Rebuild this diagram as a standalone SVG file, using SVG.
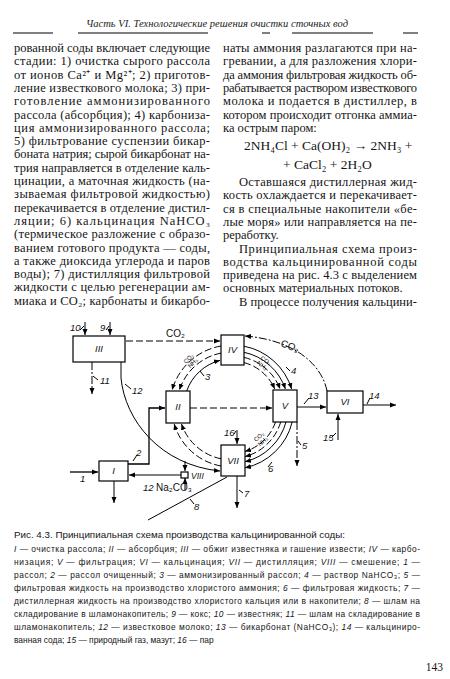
<svg xmlns="http://www.w3.org/2000/svg" width="450" height="679" viewBox="0 0 450 679">
<style>
.t{font-family:"Liberation Serif","Times New Roman",serif;font-size:12.5px;fill:#151515}
.f{font-family:"Liberation Serif","Times New Roman",serif;font-size:13.5px;fill:#151515}
.h{font-family:"Liberation Serif","Times New Roman",serif;font-style:italic;font-size:11px;fill:#222}
.c{font-family:"Liberation Sans",Arial,sans-serif;font-size:9.8px;fill:#151515}
.l{font-family:"Liberation Sans",Arial,sans-serif;font-size:8.4px;fill:#151515}
.i{font-style:italic}
.n{font-family:"Liberation Sans",Arial,sans-serif;font-style:italic;font-size:9.5px;fill:#111}
.s{font-family:"Liberation Sans",Arial,sans-serif;font-size:10px;fill:#111}
.g{font-family:"Liberation Sans",Arial,sans-serif;font-size:6px;fill:#111}
.box{fill:#fff;stroke:#000;stroke-width:1.2}
.ln{fill:none;stroke:#000;stroke-width:1}
.dash{stroke-dasharray:7 3}
.dd{stroke-dasharray:8 2 2 2}
</style>
<defs>
<marker id="a" markerWidth="7" markerHeight="6" refX="6" refY="3" orient="auto" markerUnits="userSpaceOnUse"><path d="M0,0.5 L6,3 L0,5.5 z" fill="#000"/></marker>
</defs>
<rect width="450" height="679" fill="#fff"/>

<g id="header">
<text class="h" x="86" y="27" textLength="262" lengthAdjust="spacingAndGlyphs">Часть VI. Технологические решения очистки сточных вод</text>
<path class="ln" d="M13 33H53M78 33H208M262 33H270M292 33H373M403 33H418"/>
</g>

<g id="left-column">
<text class="t" x="14" y="52" textLength="196">рованной соды включает следующие</text>
<text class="t" x="14" y="65.3" textLength="196">стадии: 1) очистка сырого рассола</text>
<text class="t" x="14" y="78.6" textLength="196">от ионов Ca²⁺ и Mg²⁺; 2) приготов-</text>
<text class="t" x="14" y="91.9" textLength="196">ление известкового молока; 3) при-</text>
<text class="t" x="14" y="105.2" textLength="196">готовление аммонизированного</text>
<text class="t" x="14" y="118.5" textLength="196">рассола (абсорбция); 4) карбониза-</text>
<text class="t" x="14" y="131.8" textLength="196">ция аммонизированного рассола;</text>
<text class="t" x="14" y="145.1" textLength="196">5) фильтрование суспензии бикар-</text>
<text class="t" x="14" y="158.4" textLength="196">боната натрия; сырой бикарбонат на-</text>
<text class="t" x="14" y="171.7" textLength="196">трия направляется в отделение каль-</text>
<text class="t" x="14" y="185" textLength="196">цинации, а маточная жидкость (на-</text>
<text class="t" x="14" y="198.3" textLength="196">зываемая фильтровой жидкостью)</text>
<text class="t" x="14" y="211.6" textLength="196">перекачивается в отделение дистил-</text>
<text class="t" x="14" y="224.9" textLength="196">ляции; 6) кальцинация NaHCO₃</text>
<text class="t" x="14" y="238.2" textLength="196">(термическое разложение с образо-</text>
<text class="t" x="14" y="251.5" textLength="196">ванием готового продукта — соды,</text>
<text class="t" x="14" y="264.8" textLength="196">а также диоксида углерода и паров</text>
<text class="t" x="14" y="278.1" textLength="196">воды); 7) дистилляция фильтровой</text>
<text class="t" x="14" y="291.4" textLength="196">жидкости с целью регенерации ам-</text>
<text class="t" x="14" y="304.7" textLength="196">миака и CO₂; карбонаты и бикарбо-</text>
</g>

<g id="right-column">
<text class="t" x="223" y="52" textLength="194">наты аммония разлагаются при на-</text>
<text class="t" x="223" y="65.3" textLength="194">гревании, а для разложения хлори-</text>
<text class="t" x="223" y="78.6" textLength="194">да аммония фильтровая жидкость об-</text>
<text class="t" x="223" y="91.9" textLength="194">рабатывается раствором известкового</text>
<text class="t" x="223" y="105.2" textLength="194">молока и подается в дистиллер, в</text>
<text class="t" x="223" y="118.5" textLength="194">котором происходит отгонка аммиа-</text>
<text class="t" x="223" y="131.8">ка острым паром:</text>
<text class="f" x="244" y="150">2NH₄Cl + Ca(OH)₂ → 2NH₃ +</text>
<text class="f" x="283" y="168.5">+ CaCl₂ + 2H₂O</text>
<text class="t" x="239" y="186" textLength="178">Оставшаяся дистиллерная жид-</text>
<text class="t" x="223" y="199.3" textLength="194">кость охлаждается и перекачивает-</text>
<text class="t" x="223" y="212.6" textLength="194">ся в специальные накопители «бе-</text>
<text class="t" x="223" y="225.9" textLength="194">лые моря» или направляется на пе-</text>
<text class="t" x="223" y="239.2">реработку.</text>
<text class="t" x="239" y="252.5" textLength="178">Принципиальная схема произ-</text>
<text class="t" x="223" y="265.8" textLength="194">водства кальцинированной соды</text>
<text class="t" x="223" y="279.1" textLength="194">приведена на рис. 4.3 с выделением</text>
<text class="t" x="223" y="292.4">основных материальных потоков.</text>
<text class="t" x="239" y="305.7" textLength="178">В процессе получения кальцини-</text>
</g>

<g id="connectors">
<path class="ln" d="M85 322V335" marker-end="url(#a)"/>
<path class="ln" d="M110 322V335" marker-end="url(#a)"/>
<path class="ln dash" d="M126 341H220" marker-end="url(#a)"/>
<path class="ln dd" d="M92 362V394" marker-end="url(#a)"/>
<path class="ln" d="M121 362L121 378C125 420 160 465 220 471" marker-end="url(#a)"/>
<path class="ln" d="M185 461V471" marker-end="url(#a)"/>
<path class="ln" style="stroke-width:1.3" d="M128 464H149V408H165" marker-end="url(#a)"/>
<path class="ln dash" d="M190 408H272" marker-end="url(#a)"/>
<path class="ln dash" d="M221 346A62 62 0 0 0 172.1 390" marker-end="url(#a)"/>
<path class="ln dash" d="M221 353.1A55 55 0 0 0 179.4 390" marker-end="url(#a)"/>
<path class="ln" d="M186.7 391A48 48 0 0 1 220 360.4" marker-end="url(#a)"/>
<path class="ln" d="M244 346.2A62 62 0 0 1 291.6 389" marker-end="url(#a)"/>
<path class="ln" d="M244 352.3A56 56 0 0 1 285.4 389" marker-end="url(#a)"/>
<path class="ln dash" d="M244 357.4A51 51 0 0 1 280.1 389" marker-end="url(#a)"/>
<path class="ln dash" d="M244 362.6A46 46 0 0 1 274.7 389" marker-end="url(#a)"/>
<path class="ln" d="M292.2 422A62 62 0 0 1 245 467.8" marker-end="url(#a)"/>
<path class="ln" d="M286 422A56 56 0 0 1 245 461.7" marker-end="url(#a)"/>
<path class="ln dash" d="M280.7 422A51 51 0 0 1 245 456.6" marker-end="url(#a)"/>
<path class="ln dash" d="M275.5 422A46 46 0 0 1 245 451.4" marker-end="url(#a)"/>
<path class="ln dash" d="M221 466A60 60 0 0 1 174.2 424" marker-end="url(#a)"/>
<path class="ln dash" d="M221 458.8A53 53 0 0 1 181.5 424" marker-end="url(#a)"/>
<path class="ln dd" d="M327 391C322 365 295 340 245 336" marker-end="url(#a)"/>
<path class="ln" d="M297 407H326" marker-end="url(#a)"/>
<path class="ln" d="M363 405H396" marker-end="url(#a)"/>
<path class="ln" d="M338 440V414" marker-end="url(#a)"/>
<path class="ln dd" d="M297 422V466" marker-end="url(#a)"/>
<path class="ln" d="M237 430V444" marker-end="url(#a)"/>
<path class="ln" d="M237 476V508" marker-end="url(#a)"/>
<path class="ln" d="M227 477L148 520"/>
<path class="ln" style="stroke-width:1.3" d="M70 472H98" marker-end="url(#a)"/>
<path class="ln" d="M114 481V503" marker-end="url(#a)"/>
<path class="ln" d="M181 475H129" marker-end="url(#a)"/>
<path class="ln" d="M185 490V478" marker-end="url(#a)"/>
<path class="ln" d="M80 330L84 326M106 330L109 326M98 380L93 376M131 389L125 384M204 376L200 371M290 371L286 367M309 398L304 404M370 398L367 404M332 437L336 433M301 445L298 441M234 434L236 431M268 467L272 462M243 493L239 490M194 504L190 499M137 455L133 461"/>
</g>

<g id="n3"><rect class="box" x="73" y="336" width="52" height="26"/><text class="n" x="99" y="352" text-anchor="middle">III</text></g>
<g id="n4"><rect class="box" x="221" y="335" width="23" height="30"/><text class="n" x="232.5" y="353" text-anchor="middle">IV</text></g>
<g id="n2"><rect class="box" x="166" y="391" width="24" height="32"/><text class="n" x="178" y="410" text-anchor="middle">II</text></g>
<g id="n5"><rect class="box" x="273" y="390" width="24" height="32"/><text class="n" x="285" y="409" text-anchor="middle">V</text></g>
<g id="n6"><rect class="box" x="327" y="391" width="36" height="22"/><text class="n" x="345" y="405" text-anchor="middle">VI</text></g>
<g id="n7"><rect class="box" x="221" y="445" width="24" height="31"/><text class="n" x="233" y="464" text-anchor="middle">VII</text></g>
<g id="n1"><rect class="box" x="99" y="461" width="29" height="20"/><text class="n" x="113.5" y="474" text-anchor="middle">I</text></g>
<g id="n8"><rect class="box" x="181" y="472" width="7" height="6"/><text class="n" x="191" y="479" style="font-size:8.5px">VIII</text></g>

<g id="labels">
<text class="n" x="70" y="331">10</text>
<text class="n" x="100" y="331">9</text>
<text class="s" x="166" y="337">CO₂</text>
<text class="n" x="100" y="384">11</text>
<text class="n" x="132" y="394">12</text>
<text class="n" x="205" y="380">3</text>
<text class="n" x="291" y="374">4</text>
<text class="n" x="308" y="399">13</text>
<text class="n" x="369" y="399">14</text>
<text class="n" x="323" y="441">15</text>
<text class="n" x="302" y="449">5</text>
<text class="n" x="224" y="436">16</text>
<text class="n" x="268" y="472">6</text>
<text class="n" x="244" y="497">7</text>
<text class="n" x="194" y="510">8</text>
<text class="n" x="136" y="456">2</text>
<text class="n" x="80" y="482">1</text>
<text class="n" x="143" y="491">12</text>
<text class="s" x="156" y="491">Na₂CO₃</text>
<text class="s" x="280" y="346" transform="rotate(20 280 346)">CO₂</text>
<g transform="translate(186 364) rotate(-44)"><text class="g" x="0" y="0">CO₂</text><text class="g" x="0" y="6">NH₃</text></g>
<g transform="translate(260 359) rotate(36)"><text class="g" x="0" y="0">CO₂</text><text class="g" x="0" y="6">NH₃</text></g>
<g transform="translate(256 442) rotate(-41)"><text class="g" x="0" y="0">CO₂</text><text class="g" x="0" y="6">NH₃</text></g>
</g>

<g id="caption">
<text class="c" x="14" y="538">Рис. 4.3. Принципиальная схема производства кальцинированной соды:</text>
<text class="l" x="14" y="552" textLength="406"><tspan class="i">I</tspan> — очистка рассола; <tspan class="i">II</tspan> — абсорбция; <tspan class="i">III</tspan> — обжиг известняка и гашение извести; <tspan class="i">IV</tspan> — карбо-</text>
<text class="l" x="14" y="565" textLength="406">низация; <tspan class="i">V</tspan> — фильтрация; <tspan class="i">VI</tspan> — кальцинация; <tspan class="i">VII</tspan> — дистилляция; <tspan class="i">VIII</tspan> — смешение; <tspan class="i">1</tspan> —</text>
<text class="l" x="14" y="578" textLength="406">рассол; <tspan class="i">2</tspan> — рассол очищенный; <tspan class="i">3</tspan> — аммонизированный рассол; <tspan class="i">4</tspan> — раствор NaHCO₃; <tspan class="i">5</tspan> —</text>
<text class="l" x="14" y="591" textLength="406">фильтровая жидкость на производство хлористого аммония; <tspan class="i">6</tspan> — фильтровая жидкость; <tspan class="i">7</tspan> —</text>
<text class="l" x="14" y="604" textLength="406">дистиллерная жидкость на производство хлористого кальция или в накопители; <tspan class="i">8</tspan> — шлам на</text>
<text class="l" x="14" y="617" textLength="406">складирование в шламонакопитель; <tspan class="i">9</tspan> — кокс; <tspan class="i">10</tspan> — известняк; <tspan class="i">11</tspan> — шлам на складирование в</text>
<text class="l" x="14" y="630" textLength="406">шламонакопитель; <tspan class="i">12</tspan> — известковое молоко; <tspan class="i">13</tspan> — бикарбонат (NaHCO₃); <tspan class="i">14</tspan> — кальциниро-</text>
<text class="l" x="14" y="643">ванная сода; <tspan class="i">15</tspan> — природный газ, мазут; <tspan class="i">16</tspan> — пар</text>
</g>

<g id="page-number"><text class="t" x="443" y="671" text-anchor="end" style="font-size:11.5px">143</text></g>
</svg>
